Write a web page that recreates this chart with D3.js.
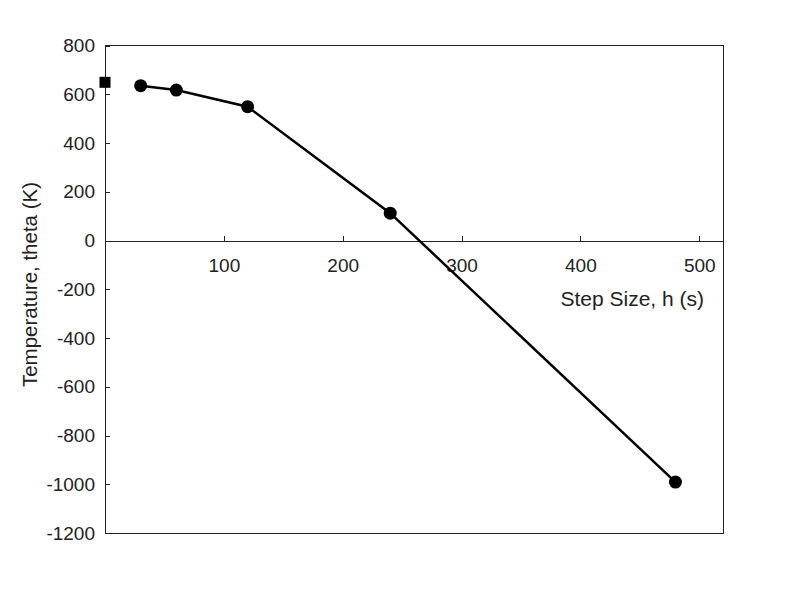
<!DOCTYPE html>
<html>
<head>
<meta charset="utf-8">
<script src="https://cdn.jsdelivr.net/npm/d3@7"></script>
<style>
  body { margin: 0; background: #fff; }
  text { font-family: "Liberation Sans", Arial, sans-serif; fill: #222; }
</style>
</head>
<body>
<svg id="chart" width="800" height="600"></svg>
<script>
// data
var stepSizes = [30, 60, 120, 240, 480];
var temps = [635, 617, 549, 112, -991];
var exactX = [0];
var exactY = [649];
var xTicks = [100, 200, 300, 400, 500];
var yTicks = [800, 600, 400, 200, 0, -200, -400, -600, -800, -1000, -1200];

var margin = {top: 45.5, right: 77, bottom: 67, left: 105},
    width = 800 - margin.left - margin.right,
    height = 600 - margin.top - margin.bottom;

var svg = d3.select("#chart")
    .append("g")
    .attr("transform", "translate(" + margin.left + "," + margin.top + ")");

var x = d3.scaleLinear().domain([0, 520]).range([0, width]);
var y = d3.scaleLinear().domain([-1200, 800]).range([height, 0]);

// plot border
svg.append("rect")
    .attr("x", 0).attr("y", 0)
    .attr("width", width).attr("height", height)
    .attr("fill", "none")
    .attr("stroke", "#222")
    .attr("stroke-width", 1)
    .attr("shape-rendering", "crispEdges");

// y axis, ticks pointing inward
var yAxis = svg.append("g")
    .call(d3.axisRight(y).tickValues(yTicks).tickSize(5).tickFormat(function (d) { return String(d); }));
yAxis.select(".domain").remove();
yAxis.selectAll("line").attr("stroke", "#222").attr("shape-rendering", "crispEdges");
yAxis.selectAll("text")
    .attr("x", -10)
    .attr("text-anchor", "end")
    .style("font-size", "19px");

// x axis along zero, ticks pointing up
var xAxis = svg.append("g")
    .attr("transform", "translate(0," + y(0) + ")")
    .call(d3.axisBottom(x).tickValues(xTicks).tickSizeInner(-5).tickSizeOuter(0));
xAxis.select(".domain").attr("stroke", "#222").attr("shape-rendering", "crispEdges");
xAxis.selectAll("line").attr("stroke", "#222").attr("shape-rendering", "crispEdges");
xAxis.selectAll("text")
    .attr("y", 18)
    .style("font-size", "19px");

// axis titles
svg.append("text")
    .attr("x", 599)
    .attr("y", y(0) + 65)
    .attr("text-anchor", "end")
    .style("font-size", "21px")
    .text("Step Size, h (s)");

svg.append("text")
    .attr("transform", "translate(" + (-68) + "," + (y(0) + 44) + ") rotate(-90)")
    .attr("text-anchor", "middle")
    .style("font-size", "20.5px")
    .text("Temperature, theta (K)");

// line
var line = d3.line()
    .x(function (d, i) { return x(stepSizes[i]); })
    .y(function (d) { return y(d); });

svg.append("path")
    .datum(temps)
    .attr("d", line)
    .attr("fill", "none")
    .attr("stroke", "#000")
    .attr("stroke-width", 2.5);

svg.selectAll(".dot")
    .data(temps)
    .enter().append("circle")
    .attr("class", "dot")
    .attr("cx", function (d, i) { return x(stepSizes[i]); })
    .attr("cy", function (d) { return y(d); })
    .attr("r", 6.5)
    .attr("fill", "#000");

// exact value marker
svg.selectAll(".sq")
    .data(exactY)
    .enter().append("rect")
    .attr("class", "sq")
    .attr("x", function (d, i) { return x(exactX[i]) - 5.5; })
    .attr("y", function (d) { return y(d) - 5.5; })
    .attr("width", 11)
    .attr("height", 11)
    .attr("fill", "#000");
</script>
</body>
</html>
